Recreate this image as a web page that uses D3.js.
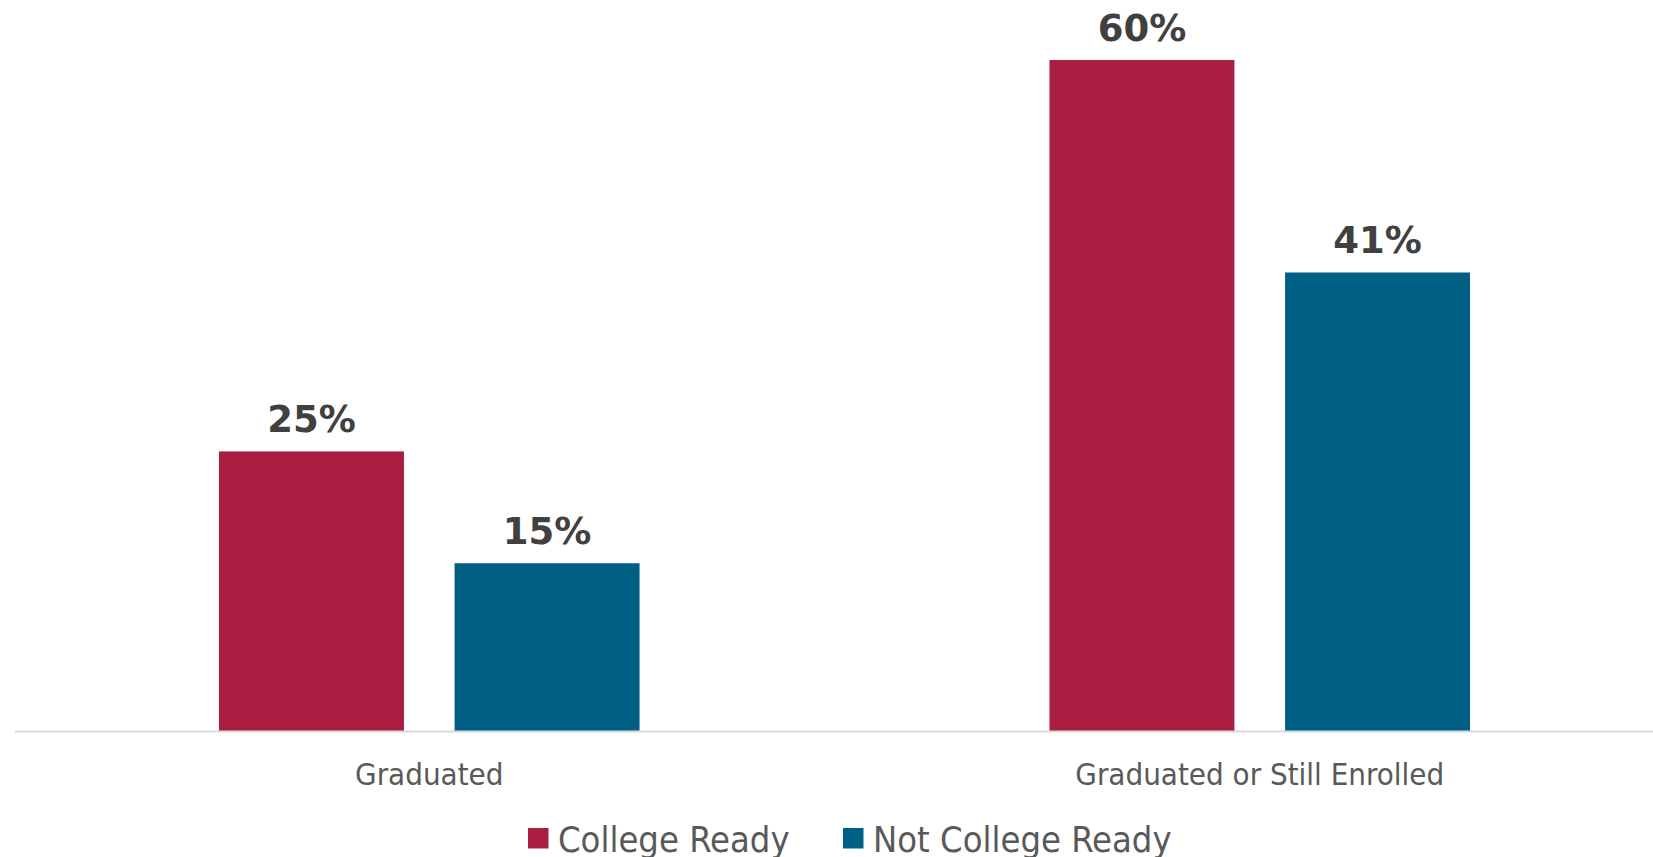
<!DOCTYPE html>
<html>
<head>
<meta charset="utf-8">
<script src="https://cdn.jsdelivr.net/npm/d3@7"></script>
<style>
  html, body { margin: 0; padding: 0; background: #fff; overflow: hidden; }
  svg { display: block; }
  .cond { font-family: "DejaVu Sans Condensed", "DejaVu Sans", sans-serif; font-stretch: condensed; }
</style>
</head>
<body>
<svg id="chart" width="1653" height="857"></svg>
<script>
const categories = ["Graduated", "Graduated or Still Enrolled"];
const seriesNames = ["College Ready", "Not College Ready"];
const collegeReady = [0.25, 0.60];
const notCollegeReady = [0.15, 0.41];
const colors = ["#A91D40", "#005F85"];

const W = 1653, H = 857;
const svg = d3.select("#chart");

const baseline = 731;
const x0 = d3.scaleBand().domain(categories).range([14, 1675]).paddingInner(0).paddingOuter(0);
const x1 = d3.scaleBand().domain(seriesNames).range([0, x0.bandwidth()]).paddingInner(0.215).paddingOuter(0.87);
const y = d3.scaleLinear().domain([0, 0.60]).range([baseline, 60]);

const rows = categories.map((c, i) => ({
  cat: c,
  vals: [
    { s: seriesNames[0], v: collegeReady[i], color: colors[0] },
    { s: seriesNames[1], v: notCollegeReady[i], color: colors[1] }
  ]
}));

const g = svg.selectAll("g.cat").data(rows).join("g")
  .attr("class", "cat")
  .attr("transform", d => `translate(${x0(d.cat)},0)`);

g.selectAll("rect").data(d => d.vals).join("rect")
  .attr("x", d => x1(d.s))
  .attr("width", x1.bandwidth())
  .attr("y", d => y(d.v))
  .attr("height", d => y(0) - y(d.v))
  .attr("fill", d => d.color);

g.selectAll("text.val").data(d => d.vals).join("text")
  .attr("class", "val")
  .attr("x", d => x1(d.s) + x1.bandwidth() / 2)
  .attr("y", d => y(d.v) - 19)
  .attr("text-anchor", "middle")
  .attr("font-family", "DejaVu Sans, sans-serif")
  .attr("font-weight", "bold")
  .attr("font-size", 37)
  .attr("fill", "#404040")
  .text(d => d3.format(".0%")(d.v));

// axis
const axis = d3.axisBottom(x0).tickSize(0).tickPadding(0);
const ax = svg.append("g").attr("transform", `translate(0,${baseline})`).call(axis);
ax.select(".domain").attr("stroke", "#D9D9D9").attr("stroke-width", 2);
ax.selectAll(".tick text")
  .attr("class", "cond")
  .attr("dy", null)
  .attr("y", 54)
  .attr("font-size", 31)
  .attr("fill", "#595959");

// legend
const legendPos = [528, 843];
const leg = svg.append("g");
seriesNames.forEach((s, i) => {
  leg.append("rect")
    .attr("x", legendPos[i]).attr("y", 828)
    .attr("width", 20.5).attr("height", 20.5)
    .attr("fill", colors[i]);
  leg.append("text")
    .attr("class", "cond")
    .attr("x", legendPos[i] + 30).attr("y", 852)
    .attr("font-size", 36)
    .attr("fill", "#595959")
    .text(s);
});
</script>
</body>
</html>
